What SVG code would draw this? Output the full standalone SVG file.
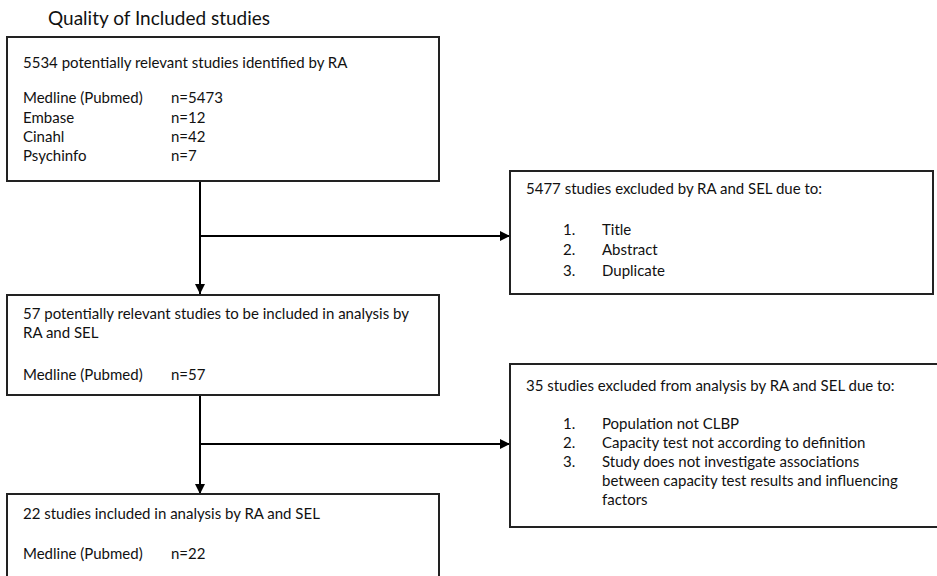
<svg xmlns="http://www.w3.org/2000/svg" width="937" height="576" viewBox="0 0 937 576">
  <style>
    .box { fill: #ffffff; stroke: #222222; stroke-width: 2; }
    .txt { font-family: Lato, "Liberation Sans", sans-serif; font-size: 15px; fill: #111111; }
    .title { font-family: Lato, "Liberation Sans", sans-serif; font-size: 19px; fill: #111111; }
    .link { fill: none; stroke: #000000; stroke-width: 2; }
  </style>
  <defs>
    <marker id="arrow" viewBox="0 0 10 10" refX="10" refY="5" markerWidth="11" markerHeight="10" markerUnits="userSpaceOnUse" orient="auto">
      <path d="M0,0 L10,5 L0,10 Z" fill="#000000"/>
    </marker>
  </defs>

  <rect width="937" height="576" fill="#ffffff"/>

  <text class="title" x="48" y="25">Quality of Included studies</text>

  <!-- connectors -->
  <g id="connectors">
    <line class="link" x1="200" y1="181" x2="200" y2="294" marker-end="url(#arrow)"/>
    <line class="link" x1="200" y1="236" x2="510" y2="236" marker-end="url(#arrow)"/>
    <line class="link" x1="200" y1="395" x2="200" y2="494" marker-end="url(#arrow)"/>
    <line class="link" x1="200" y1="444" x2="510" y2="444" marker-end="url(#arrow)"/>
  </g>

  <!-- identification -->
  <g id="identified">
    <rect class="box" x="7" y="37" width="432" height="144"/>
    <text class="txt" x="23" y="68">5534 potentially relevant studies identified by RA</text>
    <text class="txt" x="23" y="103">Medline (Pubmed)</text>
    <text class="txt" x="171" y="103">n=5473</text>
    <text class="txt" x="23" y="123">Embase</text>
    <text class="txt" x="171" y="123">n=12</text>
    <text class="txt" x="23" y="142">Cinahl</text>
    <text class="txt" x="171" y="142">n=42</text>
    <text class="txt" x="23" y="161">Psychinfo</text>
    <text class="txt" x="171" y="161">n=7</text>
  </g>

  <!-- first exclusion -->
  <g id="excluded-screening">
    <rect class="box" x="510" y="171" width="423" height="123"/>
    <text class="txt" x="526" y="194">5477 studies excluded by RA and SEL due to:</text>
    <text class="txt" x="563" y="235">1.</text>
    <text class="txt" x="602" y="235">Title</text>
    <text class="txt" x="563" y="255">2.</text>
    <text class="txt" x="602" y="255">Abstract</text>
    <text class="txt" x="563" y="276">3.</text>
    <text class="txt" x="602" y="276">Duplicate</text>
  </g>

  <!-- screened -->
  <g id="screened">
    <rect class="box" x="7" y="295" width="432" height="100"/>
    <text class="txt" x="23" y="319">57 potentially relevant studies to be included in analysis by</text>
    <text class="txt" x="23" y="338">RA and SEL</text>
    <text class="txt" x="23" y="380">Medline (Pubmed)</text>
    <text class="txt" x="171" y="380">n=57</text>
  </g>

  <!-- second exclusion -->
  <g id="excluded-analysis">
    <rect class="box" x="510" y="364" width="440" height="163"/>
    <text class="txt" x="526" y="391">35 studies excluded from analysis by RA and SEL due to:</text>
    <text class="txt" x="563" y="429">1.</text>
    <text class="txt" x="602" y="429">Population not CLBP</text>
    <text class="txt" x="563" y="448">2.</text>
    <text class="txt" x="602" y="448">Capacity test not according to definition</text>
    <text class="txt" x="563" y="467">3.</text>
    <text class="txt" x="602" y="467">Study does not investigate associations</text>
    <text class="txt" x="602" y="486">between capacity test results and influencing</text>
    <text class="txt" x="602" y="505">factors</text>
  </g>

  <!-- included -->
  <g id="included">
    <rect class="box" x="7" y="494" width="432" height="100"/>
    <text class="txt" x="23" y="519">22 studies included in analysis by RA and SEL</text>
    <text class="txt" x="23" y="559">Medline (Pubmed)</text>
    <text class="txt" x="171" y="559">n=22</text>
  </g>
</svg>
